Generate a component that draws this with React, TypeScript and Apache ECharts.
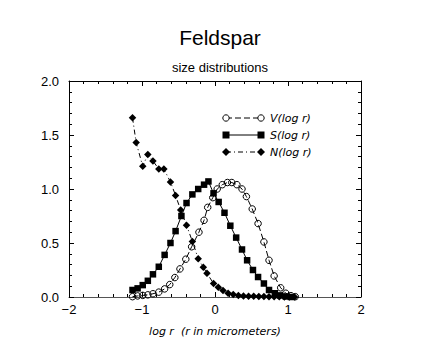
import React, { useEffect, useRef } from 'react';
import * as echarts from 'echarts';

// V(log r) — open circles, dashed line
const vX = [-1.13, -1.06, -0.99, -0.92, -0.85, -0.77, -0.69, -0.62, -0.55, -0.48, -0.40, -0.32, -0.22, -0.15, -0.10, -0.03, 0.03, 0.10, 0.17, 0.23, 0.30, 0.37, 0.43, 0.51, 0.59, 0.67, 0.74, 0.81, 0.90, 0.97, 1.04, 1.10];
const vY = [0.003, 0.01, 0.015, 0.02, 0.03, 0.045, 0.075, 0.115, 0.18, 0.26, 0.35, 0.465, 0.60, 0.71, 0.83, 0.92, 1.0, 1.04, 1.06, 1.06, 1.04, 1.0, 0.93, 0.815, 0.68, 0.51, 0.34, 0.195, 0.085, 0.035, 0.012, 0.003];

// S(log r) — filled squares, solid line
const sX = [-1.13, -1.06, -0.99, -0.92, -0.85, -0.77, -0.69, -0.61, -0.54, -0.46, -0.39, -0.31, -0.23, -0.15, -0.09, -0.02, 0.05, 0.13, 0.21, 0.29, 0.37, 0.44, 0.52, 0.59, 0.67, 0.74, 0.82, 0.89, 0.97, 1.04];
const sY = [0.065, 0.08, 0.11, 0.15, 0.21, 0.28, 0.39, 0.50, 0.61, 0.75, 0.87, 0.95, 1.00, 1.04, 1.07, 0.96, 0.88, 0.78, 0.66, 0.55, 0.44, 0.34, 0.25, 0.185, 0.125, 0.065, 0.035, 0.015, 0.005, 0.0];

// N(log r) — filled diamonds, dash-dot line
const nX = [-1.13, -1.08, -0.99, -0.92, -0.85, -0.77, -0.70, -0.61, -0.54, -0.47, -0.39, -0.31, -0.23, -0.16, -0.11, -0.02, 0.045, 0.11, 0.18, 0.25, 0.32, 0.39, 0.46, 0.53, 0.60, 0.67, 0.74, 0.81, 0.88, 0.95, 1.02, 1.09];
const nY = [1.66, 1.43, 1.21, 1.32, 1.26, 1.185, 1.185, 1.065, 0.94, 0.805, 0.665, 0.515, 0.355, 0.275, 0.22, 0.125, 0.09, 0.06, 0.035, 0.022, 0.015, 0.01, 0.008, 0.006, 0.005, 0.004, 0.003, 0.002, 0.002, 0.001, 0.001, 0.0];

const xTicks = [-2, -1, 0, 1, 2];
const yTicks = [0, 0.5, 1.0, 1.5, 2.0];

const seriesNames = ['V(log r)', 'S(log r)', 'N(log r)'];

const pairs = (xs: number[], ys: number[]) => xs.map((x, i) => [x, ys[i]]);

export default function App() {
  const ref = useRef<HTMLDivElement>(null);
  useEffect(() => {
    const chart = echarts.init(ref.current!, null, { renderer: 'svg' });
    const black = '#000';
    const labelFont = 'Liberation Sans, Arial, sans-serif';
    const italicFont = 'DejaVu Sans, sans-serif';

    const axisCommon = {
      axisLine: { show: true, onZero: false, lineStyle: { color: black, width: 1 } },
      axisTick: { show: true, inside: true, length: 5, lineStyle: { color: black } },
      minorTick: { show: true, splitNumber: 5, length: 3, lineStyle: { color: black } },
      splitLine: { show: false },
      minorSplitLine: { show: false },
    };

    // legend drawn as graphic (markers at both ends of line)
    const lx1 = 226, lx2 = 261, ltx = 270;
    const rows = [118, 135, 152];
    const legendGraphics: any[] = [];
    const dashes: any[] = [[6, 3], null, [5, 3, 1, 3]];
    seriesNames.forEach((name, i) => {
      const y = rows[i];
      legendGraphics.push({
        type: 'line',
        shape: { x1: lx1, y1: y, x2: lx2, y2: y },
        style: { stroke: black, lineWidth: 1, lineDash: dashes[i] || undefined },
      });
      [lx1, lx2].forEach((cx) => {
        if (i === 0) {
          legendGraphics.push({ type: 'circle', shape: { cx, cy: y, r: 3.2 }, style: { fill: '#fff', stroke: black, lineWidth: 1 } });
        } else if (i === 1) {
          legendGraphics.push({ type: 'rect', shape: { x: cx - 3.5, y: y - 3.5, width: 7, height: 7 }, style: { fill: black } });
        } else {
          legendGraphics.push({ type: 'polygon', shape: { points: [[cx, y - 4], [cx + 4, y], [cx, y + 4], [cx - 4, y]] }, style: { fill: black } });
        }
      });
      legendGraphics.push({
        type: 'text', x: ltx, y,
        style: { text: name, fill: black, font: `italic 11px ${italicFont}`, verticalAlign: 'middle', align: 'left' },
      });
    });

    const fmtX = (v: number) => (xTicks.includes(v) ? String(v).replace('-', '\u2212') : '');
    const fmtY = (v: number) => (yTicks.includes(v) ? v.toFixed(1) : '');

    chart.setOption({
      animation: false,
      backgroundColor: '#fff',
      title: [
        { text: 'Feldspar', left: 215, textAlign: 'center', top: 22, textStyle: { fontSize: 21, fontWeight: 'normal', color: black, fontFamily: labelFont } },
        { text: 'size distributions', left: 215, textAlign: 'center', top: 56, textStyle: { fontSize: 13, fontWeight: 'normal', color: black, fontFamily: labelFont } },
      ],
      grid: { left: 69, right: 63, top: 81, bottom: 60, containLabel: false },
      xAxis: [
        {
          type: 'value', min: -2, max: 2, interval: 1, position: 'bottom',
          ...axisCommon,
          axisLine: { show: true, onZero: false, lineStyle: { color: '#555', width: 1 } },
          axisLabel: { formatter: fmtX, fontSize: 13, color: black, fontFamily: labelFont, margin: 6 },
          name: 'log r  (r in micrometers)', nameLocation: 'middle', nameGap: 29,
          nameTextStyle: { fontStyle: 'italic', fontSize: 11, color: black, fontFamily: italicFont },
        },
        {
          type: 'value', min: -2, max: 2, interval: 1, position: 'top',
          ...axisCommon, axisLabel: { show: false },
        },
      ],
      yAxis: [
        {
          type: 'value', min: 0, max: 2, interval: 0.5, position: 'left',
          ...axisCommon,
          axisLabel: { formatter: fmtY, fontSize: 13, color: black, fontFamily: labelFont, margin: 10 },
        },
        {
          type: 'value', min: 0, max: 2, interval: 0.5, position: 'right',
          ...axisCommon, axisLabel: { show: false },
        },
      ],
      series: [
        {
          name: seriesNames[0], type: 'line', data: pairs(vX, vY), xAxisIndex: 0, yAxisIndex: 0,
          symbol: 'circle', symbolSize: 6.5,
          itemStyle: { color: 'rgba(255,255,255,0)', borderColor: black, borderWidth: 1 },
          lineStyle: { color: black, width: 1, type: [6, 3] },
          clip: false, z: 3,
        },
        {
          name: seriesNames[1], type: 'line', data: pairs(sX, sY), xAxisIndex: 0, yAxisIndex: 0,
          symbol: 'rect', symbolSize: 6.5,
          itemStyle: { color: black },
          lineStyle: { color: black, width: 1, type: 'solid' },
          clip: false, z: 2,
        },
        {
          name: seriesNames[2], type: 'line', data: pairs(nX, nY), xAxisIndex: 0, yAxisIndex: 0,
          symbol: 'diamond', symbolSize: 7.5,
          itemStyle: { color: black },
          lineStyle: { color: black, width: 1, type: [5, 3, 1, 3] },
          clip: false, z: 2,
        },
      ],
      graphic: legendGraphics,
    });
    return () => chart.dispose();
  }, []);
  return <div ref={ref} style={{ position: 'absolute', left: 0, top: 0, width: 424, height: 357 }} />;
}
